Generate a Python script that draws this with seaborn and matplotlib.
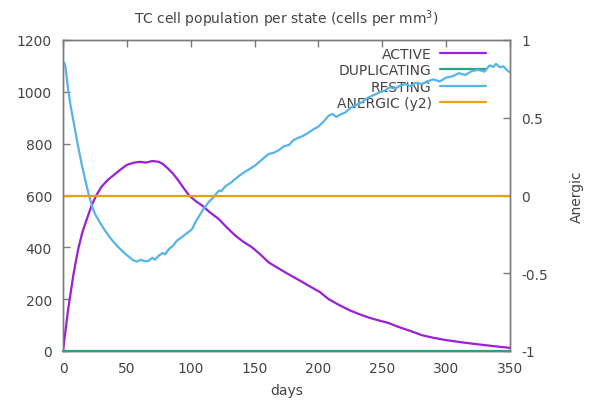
import matplotlib
matplotlib.use("Agg")
import matplotlib.pyplot as plt
import pandas as pd
import seaborn as sns

# --- TC cell populations (cells per mm^3) over time ---
resting_days = [0, 1, 2, 4, 6, 9, 12, 15, 18, 20, 23, 25, 29, 33, 37, 41, 45, 49, 52, 55,
                58, 61, 64, 67, 70, 72, 75, 78, 80, 83, 86, 89, 92, 95, 98, 101, 104, 107,
                110, 114, 118, 122, 124, 127, 131, 135, 139, 143, 147, 151, 155, 158, 161,
                165, 169, 173, 177, 180, 184, 188, 192, 196, 200, 204, 208, 211, 214, 217,
                221, 225, 229, 234, 238, 242, 248, 252, 256, 260, 264, 268, 272, 276, 281,
                285, 290, 295, 300, 305, 310, 315, 320, 325, 330, 334, 337, 339, 342, 345,
                348, 350]
resting_vals = [1100, 1112, 1095, 1010, 945, 865, 785, 712, 648, 606, 555, 529, 495, 464,
                436, 413, 392, 374, 362, 350, 345, 352, 346, 348, 360, 352, 368, 378, 373,
                394, 405, 425, 436, 447, 458, 470, 500, 524, 548, 574, 595, 619, 617, 635,
                648, 664, 680, 693, 705, 718, 735, 748, 760, 765, 775, 790, 795, 812, 822,
                830, 842, 855, 866, 885, 908, 915, 903, 912, 920, 938, 948, 960, 975, 985,
                998, 1005, 1018, 1012, 1024, 1030, 1022, 1035, 1030, 1040, 1048, 1040, 1055,
                1060, 1072, 1065, 1080, 1085, 1078, 1102, 1096, 1108, 1095, 1098, 1082, 1075]

active_days = [0, 2, 4, 6, 8, 10, 12, 15, 18, 22, 26, 30, 35, 40, 45, 50, 55, 60, 65, 70,
               75, 78, 82, 86, 90, 95, 99, 104, 109, 115, 122, 128, 135, 141, 148, 154, 161,
               169, 177, 185, 193, 201, 208, 216, 224, 232, 240, 248, 255, 262, 268, 275,
               281, 290, 300, 310, 321, 335, 350]
active_vals = [0, 80, 160, 225, 290, 345, 395, 455, 500, 556, 600, 633, 660, 680, 700, 718,
               726, 730, 727, 733, 730, 722, 705, 685, 660, 625, 599, 578, 561, 535, 509,
               478, 445, 422, 400, 375, 342, 318, 295, 273, 250, 228, 200, 178, 158, 142,
               128, 117, 108, 94, 84, 72, 61, 51, 42, 35, 28, 20, 12]

duplicating_days = [0, 350]
duplicating_vals = [0, 0]

anergic_days = [0, 350]
anergic_vals = [0, 0]

x_ticks = [0, 50, 100, 150, 200, 250, 300, 350]
y_ticks = [0, 200, 400, 600, 800, 1000, 1200]
y2_ticks = [-1, -0.5, 0, 0.5, 1]
y2_labels = ["-1", "-0.5", "0", "0.5", "1"]

sns.set_style("white")
plt.rcParams["font.family"] = ["DejaVu Sans"]
plt.rcParams["axes.unicode_minus"] = False

TEXT = "#444444"
FRAME = "#7a7a7a"
C_ACTIVE = "#9a1fd6"
C_DUP = "#26a383"
C_REST = "#56b4e9"
C_ANERGIC = "#e6a010"

fig = plt.figure(figsize=(5.95, 4.06), dpi=100)
fig.patch.set_facecolor("white")
ax = fig.add_axes([63 / 595, 54 / 406, 447 / 595, 311 / 406])
ax2 = ax.twinx()

sns.lineplot(x=active_days, y=active_vals, ax=ax, color=C_ACTIVE, lw=1.6,
             label="ACTIVE", zorder=3)
sns.lineplot(x=duplicating_days, y=duplicating_vals, ax=ax, color=C_DUP, lw=1.6,
             label="DUPLICATING", zorder=3, clip_on=False)
sns.lineplot(x=resting_days, y=resting_vals, ax=ax, color=C_REST, lw=1.6,
             label="RESTING", zorder=3)
sns.lineplot(x=anergic_days, y=anergic_vals, ax=ax2, color=C_ANERGIC, lw=1.6,
             label="ANERGIC (y2)")

for a in (ax, ax2):
    lg = a.get_legend()
    if lg is not None:
        lg.remove()

ax.set_xlim(0, 350)
ax.set_ylim(0, 1200)
ax2.set_ylim(-1, 1)
ax.set_xticks(x_ticks)
ax.set_yticks(y_ticks)
ax2.set_yticks(y2_ticks)
ax2.set_yticklabels(y2_labels)

ax.tick_params(axis="both", direction="in", length=5, width=1, color=FRAME,
               labelcolor=TEXT, labelsize=10, top=True, right=False)
ax.tick_params(axis="y", pad=8)
ax.tick_params(axis="x", pad=7)
ax2.tick_params(axis="y", direction="in", length=5, width=1, color=FRAME,
                labelcolor=TEXT, labelsize=10, pad=8)

for a in (ax, ax2):
    for s in a.spines.values():
        s.set_color(FRAME)
        s.set_linewidth(1.0)

ax.set_xlabel("days", fontsize=10, color=TEXT, labelpad=6)
ax.set_ylabel("")
ax2.set_ylabel("Anergic", fontsize=10, color=TEXT, labelpad=16)
ax.set_title("TC cell population per state (cells per mm$^3$)", fontsize=10,
             color=TEXT, pad=12)

h1, l1 = ax.get_legend_handles_labels()
h2, l2 = ax2.get_legend_handles_labels()
leg = ax.legend(h1 + h2, l1 + l2, loc="upper right", bbox_to_anchor=(0.965, 1.005),
                frameon=False, markerfirst=False, fontsize=10, handlelength=3.3,
                handletextpad=0.6, labelspacing=0.18, borderaxespad=0.2)
for t in leg.get_texts():
    t.set_color(TEXT)
leg.set_zorder(1)

fig.savefig("out.png", dpi=100, facecolor="white")
